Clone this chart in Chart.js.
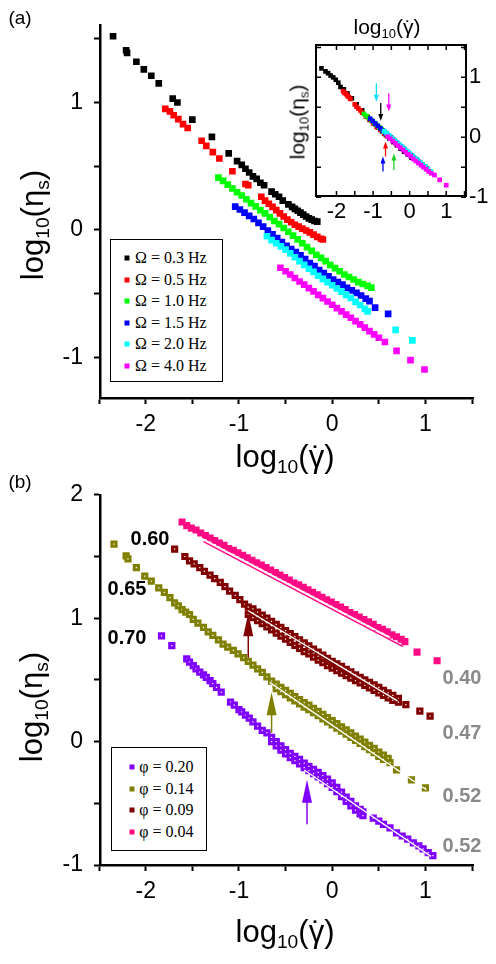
<!DOCTYPE html>
<html><head><meta charset="utf-8">
<script src="https://cdn.jsdelivr.net/npm/chart.js@4.4.1/dist/chart.umd.min.js"></script>
<style>
html,body{margin:0;padding:0;background:#fff;}
body{width:496px;height:964px;position:relative;overflow:hidden;font-family:"Liberation Sans",Arial,sans-serif;}
canvas{position:absolute;}
.txt{position:absolute;white-space:nowrap;line-height:1;transform:translate(-50%,-50%);color:#000;}
.sb{font-size:0.62em;position:relative;top:0.3em;}
.gd{position:relative;display:inline-block;}
.gd i{position:absolute;left:0;right:0;top:0.04em;text-align:center;font-style:normal;}
.big{font-size:31px;}
.small{font-size:21px;}
.rot{transform:translate(-50%,-50%) rotate(-90deg);}
.leg{position:absolute;border:1.5px solid #000;box-sizing:border-box;background:#fff;}
.lrow{position:absolute;font-family:"Liberation Serif","Times New Roman",serif;font-size:16px;line-height:1;white-space:nowrap;transform:translateY(-50%);}
.mk{position:absolute;width:5px;height:5px;transform:translate(-50%,-50%);}
.num{font-weight:bold;font-size:20px;}
.grey{color:#8a8a8a;}
</style></head><body>
<canvas id="cA" width="496" height="480" style="left:0;top:0"></canvas>
<canvas id="cI" width="216" height="230" style="left:280px;top:0"></canvas>
<canvas id="cB" width="496" height="494" style="left:0;top:470px"></canvas>

<div class="txt" style="left:20px;top:17px;font-size:19px">(a)</div>
<div class="txt" style="left:20px;top:481px;font-size:19px">(b)</div>

<div class="txt big rot" style="left:32px;top:225px">log<span class="sb">10</span>(η<span class="sb">s</span>)</div>
<div class="txt big" style="left:285px;top:456px">log<span class="sb">10</span>(<span class="gd">γ<i>˙</i></span>)</div>
<div class="txt big rot" style="left:31px;top:707px">log<span class="sb">10</span>(η<span class="sb">s</span>)</div>
<div class="txt big" style="left:285px;top:931px">log<span class="sb">10</span>(<span class="gd">γ<i>˙</i></span>)</div>
<div class="txt small" style="left:387px;top:26px">log<span class="sb">10</span>(<span class="gd">γ<i>˙</i></span>)</div>
<div class="txt small rot" style="left:297px;top:122px">log<span class="sb">10</span>(η<span class="sb">s</span>)</div>

<div class="leg" style="left:110px;top:239px;width:113px;height:143px"></div>
<div id="legA"></div>
<div class="leg" style="left:111px;top:747px;width:96px;height:104px"></div>
<div id="legB"></div>

<div class="txt num" style="left:150px;top:538px">0.60</div>
<div class="txt num" style="left:127px;top:588px">0.65</div>
<div class="txt num" style="left:127px;top:637px">0.70</div>
<div class="txt num grey" style="left:462px;top:677px">0.40</div>
<div class="txt num grey" style="left:462px;top:732px">0.47</div>
<div class="txt num grey" style="left:462px;top:795px">0.52</div>
<div class="txt num grey" style="left:462px;top:845px">0.52</div>

<script>
// ---------- Panel (a): main ----------
const omegaLabels = ['Ω = 0.3 Hz','Ω = 0.5 Hz','Ω = 1.0 Hz','Ω = 1.5 Hz','Ω = 2.0 Hz','Ω = 4.0 Hz'];
const aBlackX = [-2.35,-2.21,-2.20,-2.10,-2.02,-1.94,-1.86,-1.71,-1.66,-1.50,-1.29,-1.11,-1.02,-0.97,-0.93,-0.89,-0.85,-0.81,-0.77,-0.73,-0.65,-0.61,-0.57,-0.53,-0.47,-0.43,-0.40,-0.37,-0.34,-0.31,-0.28,-0.25,-0.22,-0.19,-0.16];
const aBlackY = [1.52,1.41,1.39,1.32,1.26,1.21,1.15,1.03,1.00,0.865,0.73,0.60,0.54,0.51,0.48,0.45,0.42,0.40,0.37,0.35,0.30,0.28,0.26,0.23,0.20,0.18,0.165,0.15,0.135,0.12,0.105,0.09,0.08,0.07,0.065];
const aRedX = [-1.79,-1.74,-1.70,-1.65,-1.60,-1.55,-1.40,-1.35,-1.28,-1.21,-1.07,-0.93,-0.90,-0.76,-0.72,-0.68,-0.64,-0.60,-0.56,-0.52,-0.48,-0.44,-0.40,-0.36,-0.32,-0.28,-0.24,-0.20,-0.16,-0.12,-0.10];
const aRedY = [0.95,0.93,0.90,0.87,0.83,0.80,0.70,0.66,0.61,0.56,0.46,0.36,0.35,0.26,0.23,0.205,0.18,0.155,0.13,0.105,0.08,0.06,0.04,0.025,0.01,-0.005,-0.02,-0.037,-0.055,-0.07,-0.076];
const aGreenX = [-1.22,-1.17,-1.12,-1.07,-1.02,-0.97,-0.92,-0.87,-0.82,-0.77,-0.72,-0.67,-0.62,-0.57,-0.52,-0.47,-0.42,-0.37,-0.32,-0.27,-0.22,-0.17,-0.12,-0.07,-0.02,0.03,0.08,0.13,0.18,0.23,0.28,0.33,0.38,0.42];
const aGreenY = [0.41,0.385,0.355,0.325,0.295,0.27,0.24,0.21,0.185,0.155,0.13,0.10,0.07,0.045,0.015,-0.015,-0.045,-0.075,-0.105,-0.135,-0.165,-0.195,-0.22,-0.245,-0.275,-0.30,-0.325,-0.35,-0.37,-0.39,-0.41,-0.425,-0.44,-0.453];
const aBlueX = [-1.04,-0.99,-0.94,-0.89,-0.84,-0.79,-0.74,-0.69,-0.64,-0.59,-0.54,-0.49,-0.44,-0.39,-0.34,-0.29,-0.24,-0.19,-0.14,-0.09,-0.04,0.01,0.06,0.11,0.16,0.21,0.26,0.31,0.36,0.40,0.46,0.60];
const aBlueY = [0.183,0.16,0.135,0.11,0.085,0.055,0.025,-0.005,-0.035,-0.065,-0.095,-0.125,-0.15,-0.175,-0.20,-0.23,-0.26,-0.285,-0.315,-0.34,-0.365,-0.39,-0.41,-0.43,-0.455,-0.475,-0.495,-0.515,-0.54,-0.56,-0.61,-0.66];
const aCyanX = [-0.70,-0.65,-0.60,-0.55,-0.50,-0.45,-0.40,-0.35,-0.30,-0.25,-0.20,-0.15,-0.10,-0.05,0.00,0.05,0.10,0.15,0.20,0.25,0.30,0.35,0.38,0.68,0.86];
const aCyanY = [-0.05,-0.08,-0.105,-0.13,-0.155,-0.185,-0.215,-0.245,-0.275,-0.305,-0.33,-0.36,-0.385,-0.41,-0.435,-0.46,-0.485,-0.51,-0.535,-0.565,-0.59,-0.62,-0.64,-0.785,-0.868];
const aMagX = [-0.555,-0.50,-0.45,-0.40,-0.35,-0.30,-0.25,-0.20,-0.15,-0.10,-0.05,0.00,0.05,0.10,0.15,0.20,0.25,0.30,0.35,0.40,0.45,0.50,0.565,0.69,0.84,0.99];
const aMagY = [-0.297,-0.325,-0.35,-0.378,-0.405,-0.43,-0.457,-0.483,-0.51,-0.536,-0.562,-0.588,-0.614,-0.64,-0.665,-0.69,-0.716,-0.742,-0.768,-0.795,-0.82,-0.847,-0.88,-0.95,-1.023,-1.096];

// ---------- Panel (a): inset ----------
const iBlackX = [-2.41,-2.30,-2.23,-2.16,-2.09,-2.02,-1.95,-1.89,-1.80,-1.70,-1.58,-1.45,-1.30,-1.15,-1.05,-0.95,-0.85,-0.75,-0.65,-0.55,-0.45,-0.35,-0.25,-0.15,-0.05,0.05,0.12,0.18];
const iBlackY = [1.15,1.10,1.07,1.03,1.00,0.96,0.91,0.84,0.80,0.73,0.65,0.55,0.45,0.34,0.28,0.22,0.16,0.10,0.04,-0.02,-0.08,-0.13,-0.19,-0.24,-0.29,-0.34,-0.36,-0.38];
const iRedX = [-1.82,-1.78,-1.74,-1.70,-1.66,-1.62,-1.50,-1.45,-1.40,-1.35,-1.30,-1.20,-1.10,-1.00,-0.90,-0.80,-0.70,-0.62];
const iRedY = [0.77,0.74,0.72,0.69,0.67,0.64,0.55,0.51,0.48,0.45,0.41,0.35,0.29,0.23,0.17,0.12,0.06,0.02];
const iGreenX = [-1.25,-1.18,-1.11,-1.04,-0.97,-0.90,-0.83,-0.76,-0.69,-0.62,-0.55,-0.48,-0.41,-0.34,-0.27,-0.20,-0.13,-0.06,0.01,0.08,0.15,0.22,0.29,0.36,0.43];
const iGreenY = [0.39,0.355,0.315,0.28,0.24,0.205,0.165,0.13,0.09,0.05,0.015,-0.025,-0.06,-0.10,-0.135,-0.17,-0.21,-0.245,-0.285,-0.32,-0.355,-0.39,-0.425,-0.46,-0.495];
const iBlueX = [-1.08,-1.01,-0.94,-0.87,-0.80,-0.73,-0.66,-0.59,-0.52,-0.45,-0.38,-0.31,-0.24,-0.17,-0.10,-0.03,0.04,0.11,0.18,0.25,0.32,0.39,0.46];
const iBlueY = [0.31,0.27,0.23,0.19,0.15,0.11,0.07,0.035,0.0,-0.04,-0.08,-0.115,-0.155,-0.19,-0.23,-0.265,-0.30,-0.34,-0.375,-0.41,-0.45,-0.485,-0.52];
const iCyanX = [-0.70,-0.63,-0.56,-0.49,-0.42,-0.35,-0.28,-0.21,-0.14,-0.07,0.0,0.07,0.14,0.21,0.28,0.35,0.42,0.50,0.58];
const iCyanY = [0.10,0.07,0.03,-0.01,-0.05,-0.085,-0.12,-0.16,-0.195,-0.235,-0.27,-0.31,-0.345,-0.38,-0.42,-0.455,-0.49,-0.53,-0.57];
const iMagX = [-0.60,-0.53,-0.46,-0.39,-0.32,-0.25,-0.18,-0.11,-0.04,0.03,0.10,0.17,0.24,0.31,0.38,0.45,0.52,0.59,0.68,0.82,1.00];
const iMagY = [0.01,-0.025,-0.065,-0.10,-0.14,-0.175,-0.21,-0.25,-0.285,-0.32,-0.36,-0.395,-0.43,-0.465,-0.50,-0.535,-0.57,-0.60,-0.63,-0.71,-0.80];
// inset arrows (data coords): x, tail y, tip y
const iArrowX    = [-0.91, -0.57, -0.79, -0.66, -0.73, -0.43];
const iArrowFrom = [0.90, 0.735, 0.57, -0.32, -0.57, -0.545];
const iArrowTo   = [0.595, 0.43, 0.27, -0.07, -0.32, -0.27];

// ---------- Panel (b) ----------
const phiLabels = ['φ = 0.20','φ = 0.14','φ = 0.09','φ = 0.04'];
const bPurpleX = [-1.83,-1.72,-1.56,-1.53,-1.49,-1.46,-1.42,-1.38,-1.35,-1.31,-1.28,-1.24,-1.19,-1.09,-1.05,-1.00,-0.97,-0.93,-0.89,-0.85,-0.80,-0.75,
 -0.70,-0.65,-0.60,-0.55,-0.50,-0.45,-0.40,-0.35,-0.30,-0.25,-0.20,-0.15,-0.10,-0.05,0.00,0.05,0.10,0.15,0.20,0.25,0.30,0.33,
 -0.65,-0.60,-0.55,-0.50,-0.45,-0.40,-0.35,-0.30,-0.25,-0.20,-0.15,-0.10,-0.05,0.00,0.05,0.10,0.15,0.20,0.25,0.30,0.33,
 0.44,0.50,0.55,0.62,0.69,0.75,0.81,0.87,0.93,0.975,1.03,1.08];
const bPurpleY = [0.857,0.777,0.67,0.645,0.616,0.59,0.563,0.54,0.52,0.495,0.47,0.44,0.40,0.32,0.295,0.26,0.24,0.215,0.19,0.16,0.125,0.09,
 0.07,0.035,0.0,-0.035,-0.065,-0.095,-0.12,-0.145,-0.175,-0.2,-0.225,-0.25,-0.275,-0.305,-0.335,-0.37,-0.41,-0.45,-0.485,-0.52,-0.55,-0.57,
 0.0,-0.035,-0.07,-0.10,-0.13,-0.155,-0.18,-0.21,-0.235,-0.26,-0.285,-0.31,-0.34,-0.37,-0.405,-0.445,-0.485,-0.52,-0.555,-0.585,-0.60,
 -0.62,-0.645,-0.67,-0.70,-0.74,-0.765,-0.79,-0.82,-0.845,-0.87,-0.90,-0.925];
const bOliveX = [-2.34,-2.21,-2.19,-2.10,-2.01,-1.94,-1.86,-1.80,-1.74,-1.69,-1.65,-1.61,-1.57,-1.53,-1.49,-1.44,-1.38,-1.33,-1.28,-1.22,-1.17,-1.12,-1.06,-1.01,-0.95,-0.90,-0.85,-0.80,-0.75,-0.70,
 -0.65,-0.60,-0.55,-0.50,-0.45,-0.40,-0.35,-0.30,-0.25,-0.20,-0.15,-0.10,-0.05,0.00,0.05,0.10,0.15,0.20,0.25,0.30,0.35,0.40,0.45,0.50,0.55,0.60,
 -0.60,-0.55,-0.50,-0.45,-0.40,-0.35,-0.30,-0.25,-0.20,-0.15,-0.10,-0.05,0.00,0.05,0.10,0.15,0.20,0.25,0.30,0.35,0.40,0.45,0.50,0.55,0.62,
 0.69,0.85,1.00];
const bOliveY = [1.60,1.505,1.48,1.41,1.34,1.30,1.246,1.21,1.166,1.125,1.10,1.07,1.05,1.03,0.99,0.96,0.925,0.89,0.86,0.825,0.79,0.765,0.74,0.71,0.68,0.65,0.62,0.59,0.56,0.525,
 0.49,0.465,0.44,0.415,0.39,0.365,0.34,0.315,0.295,0.27,0.245,0.22,0.195,0.17,0.145,0.12,0.095,0.07,0.045,0.02,-0.005,-0.03,-0.055,-0.085,-0.11,-0.135,
 0.43,0.405,0.38,0.355,0.33,0.305,0.28,0.26,0.235,0.21,0.185,0.16,0.135,0.11,0.085,0.06,0.035,0.01,-0.015,-0.04,-0.065,-0.09,-0.12,-0.145,-0.17,
 -0.23,-0.31,-0.375];
const bWineX = [-1.69,-1.58,-1.53,-1.48,-1.42,-1.37,-1.31,-1.26,-1.20,-1.15,-1.10,-1.04,-0.99,-0.94,-0.90,-0.85,-0.80,-0.75,-0.70,-0.65,-0.60,-0.55,-0.50,-0.45,-0.40,-0.35,-0.30,-0.25,-0.20,-0.15,-0.10,-0.05,0.00,0.05,0.10,0.15,0.20,0.25,0.30,0.35,0.40,0.45,0.50,0.55,0.60,0.65,0.71,
 -0.90,-0.85,-0.80,-0.75,-0.70,-0.65,-0.60,-0.55,-0.50,-0.45,-0.40,-0.35,-0.30,-0.25,-0.20,-0.15,-0.10,-0.05,0.00,0.05,0.10,0.15,0.20,0.25,0.30,0.35,0.40,0.45,0.50,0.55,0.60,0.65,0.71,
 0.79,0.94,1.05];
const bWineY = [1.56,1.50,1.465,1.44,1.41,1.38,1.35,1.32,1.29,1.255,1.22,1.185,1.15,1.115,1.09,1.075,1.05,1.025,1.0,0.975,0.95,0.925,0.90,0.875,0.85,0.825,0.80,0.775,0.75,0.725,0.70,0.675,0.65,0.63,0.61,0.585,0.565,0.54,0.52,0.50,0.48,0.46,0.44,0.415,0.395,0.375,0.35,
 1.03,1.005,0.98,0.955,0.93,0.905,0.88,0.855,0.83,0.805,0.78,0.755,0.73,0.71,0.685,0.66,0.64,0.615,0.595,0.575,0.555,0.535,0.515,0.495,0.475,0.455,0.435,0.415,0.395,0.375,0.355,0.335,0.32,
 0.30,0.247,0.206];
const bPinkX = [-1.61,-1.56,-1.51,-1.46,-1.41,-1.36,-1.31,-1.26,-1.21,-1.16,-1.11,-1.06,-1.01,-0.96,-0.91,-0.86,-0.81,-0.76,-0.71,-0.66,-0.61,-0.56,-0.51,-0.46,-0.41,-0.36,-0.31,-0.26,-0.21,-0.16,-0.11,-0.06,-0.01,0.04,0.09,0.14,0.19,0.24,0.29,0.34,0.39,0.44,0.49,0.54,0.59,0.64,0.69,0.74,0.78,
 0.91,1.125];
const bPinkY = [1.78,1.75,1.73,1.715,1.69,1.67,1.65,1.63,1.61,1.59,1.565,1.55,1.53,1.51,1.49,1.47,1.45,1.43,1.41,1.39,1.37,1.35,1.33,1.31,1.285,1.27,1.25,1.23,1.21,1.19,1.17,1.15,1.13,1.11,1.09,1.07,1.045,1.03,1.01,0.99,0.97,0.95,0.925,0.91,0.89,0.865,0.85,0.83,0.81,
 0.725,0.655];
const bPinkLowX = [-1.38, 0.76];
const bPinkLowY = [1.62, 0.77];
// white power-law fit lines
const fitPinkX = [-1.42, 0.62],  fitPinkY = [1.655, 0.845];
const fitWineX = [-0.90, 0.70],  fitWineY = [1.06, 0.33];
const fitOliveX = [-0.67, 1.01], fitOliveY = [0.48, -0.39];
const fitPurpleX = [-0.30, 1.06], fitPurpleY = [-0.23, -0.93];
// arrows in (b)
const bArrowX = [-0.90, -0.65, -0.27];
const bArrowFrom = [0.68, 0.07, -0.67];
const bArrowTo = [1.04, 0.40, -0.31];

// ticks
const mainXTicks = [-2.5,-2,-1.5,-1,-0.5,0,0.5,1,1.5];
const mainXLabels = ['','-2','','-1','','0','','1',''];
const aYTicks = [-1,-0.5,0,0.5,1,1.5];
const aYLabels = ['-1','','0','','1',''];
const bYTicks = [-1,-0.5,0,0.5,1,1.5,2];
const bYLabels = ['-1','','0','','1','','2'];
const iXTicks = [-2,-1.5,-1,-0.5,0,0.5,1,1.5];
const iXLabels = ['-2','','-1','','0','','1',''];
const iYTicks = [-1,-0.5,0,0.5,1,1.5];
const iYLabels = ['-1','','0','','1',''];

// ---------- styles ----------
const colA = ['#000000','#ff0000','#00ff00','#0000ff','#00ffff','#ff00ff'];
const colB = ['#8000ff','#808000','#800000','#ff0a84'];
const FONT = '"Liberation Sans", Arial, sans-serif';

const pts = (xs, ys) => xs.map((x, i) => ({x, y: ys[i]}));

function mainScale(min, max, ticks, labels, horiz, size, pad) {
  return {
    type: 'linear', min, max,
    afterBuildTicks: s => { s.ticks = ticks.map(v => ({value: v})); },
    afterFit: s => { if (horiz) s.height = size; else s.width = size; },
    ticks: { callback: (v, i) => labels[i], font: {family: FONT, size: 23}, color: '#000', padding: pad, autoSkip: false, maxRotation: 0 },
    grid: { display: true, drawOnChartArea: false, drawTicks: true, tickLength: 6, tickWidth: 2, tickColor: '#000', color: '#000' },
    border: { display: true, color: '#000', width: 2.5 }
  };
}

function arrowPlugin(xs, from, to, colors, headLen, headW, lw) {
  return { id: 'arrows', afterDatasetsDraw(chart) {
    const {ctx, scales: {x, y}} = chart;
    xs.forEach((xv, i) => {
      const px = x.getPixelForValue(xv), p0 = y.getPixelForValue(from[i]), p1 = y.getPixelForValue(to[i]);
      const d = Math.sign(p1 - p0);
      ctx.save();
      ctx.strokeStyle = colors[i]; ctx.fillStyle = colors[i]; ctx.lineWidth = lw;
      ctx.beginPath(); ctx.moveTo(px, p0); ctx.lineTo(px, p1 - d * headLen * 0.7); ctx.stroke();
      ctx.beginPath(); ctx.moveTo(px, p1); ctx.lineTo(px - headW / 2, p1 - d * headLen); ctx.lineTo(px + headW / 2, p1 - d * headLen); ctx.closePath(); ctx.fill();
      ctx.restore();
    });
  }};
}

function scatterSet(data, color, r, order) {
  return { type: 'scatter', data, pointStyle: 'rect', pointRadius: r, pointHoverRadius: r, pointBorderWidth: 0, borderWidth: 0, backgroundColor: color, borderColor: color, order };
}
function openSet(data, color, r, bw, order) {
  return { type: 'scatter', data, pointStyle: 'rect', pointRadius: r, pointHoverRadius: r, pointBorderWidth: bw, borderWidth: bw, backgroundColor: '#ffffff', borderColor: color, order };
}
function lineSet(data, color, w, order) {
  return { type: 'line', data, showLine: true, borderColor: color, borderWidth: w, pointRadius: 0, fill: false, tension: 0, order };
}

const common = { responsive: false, animation: false, devicePixelRatio: 1,
  plugins: { legend: { display: false }, tooltip: { enabled: false }, title: { display: false } } };

// ---------- Chart A ----------
const aSeries = [[aBlackX,aBlackY],[aRedX,aRedY],[aGreenX,aGreenY],[aBlueX,aBlueY],[aCyanX,aCyanY],[aMagX,aMagY]];
new Chart(document.getElementById('cA'), {
  type: 'scatter',
  data: { datasets: aSeries.map((s, i) => Object.assign(scatterSet(pts(s[0], s[1]), colA[i], 4.7, 6 - i), {label: omegaLabels[i]})) },
  options: Object.assign({}, common, {
    layout: { padding: { top: 22, right: 23, left: 0, bottom: 0 } },
    scales: {
      x: mainScale(-2.49, 1.51, mainXTicks, mainXLabels, true, 82, 7),
      y: mainScale(-1.32, 1.61, aYTicks, aYLabels, false, 100, 11)
    }
  })
});

// ---------- Inset ----------
const iSeries = [[iBlackX,iBlackY],[iRedX,iRedY],[iGreenX,iGreenY],[iBlueX,iBlueY],[iCyanX,iCyanY],[iMagX,iMagY]];
const insetFrame = { id: 'insetFrame', afterDraw(chart) {
  const {ctx, chartArea: a, scales: {x, y}} = chart;
  ctx.save(); ctx.strokeStyle = '#000'; ctx.lineWidth = 2;
  ctx.strokeRect(a.left, a.top, a.right - a.left, a.bottom - a.top);
  ctx.lineWidth = 1.5; ctx.beginPath();
  iXTicks.forEach(v => { const p = x.getPixelForValue(v); ctx.moveTo(p, a.bottom); ctx.lineTo(p, a.bottom - 5); ctx.moveTo(p, a.top); ctx.lineTo(p, a.top + 5); });
  iYTicks.forEach(v => { const p = y.getPixelForValue(v); ctx.moveTo(a.left, p); ctx.lineTo(a.left + 5, p); ctx.moveTo(a.right, p); ctx.lineTo(a.right - 5, p); });
  ctx.stroke(); ctx.restore();
}};
new Chart(document.getElementById('cI'), {
  type: 'scatter',
  data: { datasets: iSeries.map((s, i) => scatterSet(pts(s[0], s[1]), colA[i], 3.3, 6 - i)) },
  options: Object.assign({}, common, {
    layout: { padding: { top: 45, left: 36, right: 0, bottom: 0 } },
    scales: {
      x: { type: 'linear', position: 'bottom', min: -2.56, max: 1.54,
        afterBuildTicks: s => { s.ticks = iXTicks.map(v => ({value: v})); },
        afterFit: s => { s.height = 34; },
        ticks: { callback: (v, i) => iXLabels[i], font: {family: FONT, size: 22}, color: '#000', padding: 3, autoSkip: false, maxRotation: 0 },
        grid: { display: false, drawTicks: false }, border: { display: false } },
      y: { type: 'linear', position: 'right', min: -0.98, max: 1.54,
        afterBuildTicks: s => { s.ticks = iYTicks.map(v => ({value: v})); },
        afterFit: s => { s.width = 30; },
        ticks: { callback: (v, i) => iYLabels[i], font: {family: FONT, size: 22}, color: '#000', padding: 3, autoSkip: false },
        grid: { display: false, drawTicks: false }, border: { display: false } }
    }
  }),
  plugins: [insetFrame, arrowPlugin(iArrowX, iArrowFrom, iArrowTo, ['#00e0ff', '#ff00ff', '#000000', '#ff0000', '#0000ff', '#22cc22'], 7, 5, 1.3)]
});

// ---------- Chart B ----------
const bSets = [
  Object.assign(openSet(pts(bPurpleX, bPurpleY), colB[0], 3.0, 3, 2), {label: phiLabels[0]}),
  Object.assign(openSet(pts(bOliveX, bOliveY), colB[1], 3.0, 3, 2), {label: phiLabels[1]}),
  Object.assign(openSet(pts(bWineX, bWineY), colB[2], 3.0, 3, 2), {label: phiLabels[2]}),
  Object.assign(scatterSet(pts(bPinkX, bPinkY), colB[3], 5, 2), {label: phiLabels[3]}),
  lineSet(pts(bPinkLowX, bPinkLowY), colB[3], 1.5, 1)
];
[[fitPinkX,fitPinkY],[fitWineX,fitWineY],[fitOliveX,fitOliveY],[fitPurpleX,fitPurpleY]].forEach(f => bSets.push(lineSet(pts(f[0], f[1]), '#ffffff', 1.3, 0)));
new Chart(document.getElementById('cB'), {
  type: 'scatter',
  data: { datasets: bSets },
  options: Object.assign({}, common, {
    layout: { padding: { top: 21.7, right: 23, left: 0, bottom: 0 } },
    scales: {
      x: mainScale(-2.49, 1.51, mainXTicks, mainXLabels, true, 99, 7),
      y: mainScale(-1, 2, bYTicks, bYLabels, false, 100, 11)
    }
  }),
  plugins: [arrowPlugin(bArrowX, bArrowFrom, bArrowTo, [colB[2], colB[1], colB[0]], 23, 10, 1.5)]
});

// ---------- HTML legends ----------
function legend(el, labels, colors, markX, textX, y0, dy) {
  const host = document.getElementById(el);
  labels.forEach((t, i) => {
    const y = y0 + dy * i;
    const m = document.createElement('div'); m.className = 'mk';
    m.style.left = markX + 'px'; m.style.top = y + 'px'; m.style.background = colors[i];
    host.appendChild(m);
    const d = document.createElement('div'); d.className = 'lrow';
    d.style.left = textX + 'px'; d.style.top = y + 'px'; d.textContent = t;
    host.appendChild(d);
  });
}
legend('legA', omegaLabels, colA, 126.7, 135, 258.3, 21.5);
legend('legB', phiLabels, colB, 131.7, 139.3, 767.3, 21.5);
</script>
</body></html>
